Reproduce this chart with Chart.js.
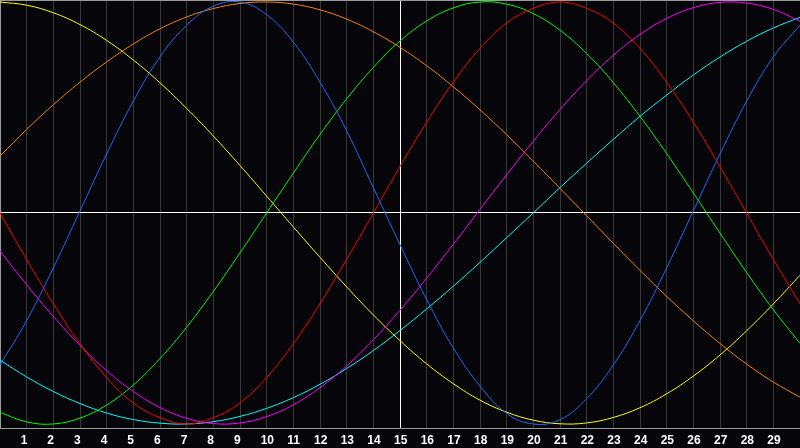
<!DOCTYPE html>
<html>
<head>
<meta charset="utf-8">
<script src="https://cdn.jsdelivr.net/npm/chart.js@4"></script>
<style>
  html, body { margin: 0; padding: 0; background: #05050a; }
  canvas { display: block; }
</style>
</head>
<body>
<canvas id="chart" width="800" height="448"></canvas>
<script>
// days along the bottom (0..30), labels shown for 1..29
const days = [0,1,2,3,4,5,6,7,8,9,10,11,12,13,14,15,16,17,18,19,20,21,22,23,24,25,26,27,28,29,30];

// curve values, -1 .. 1
const blue = [-0.72,-0.51,-0.26,0.01,0.28,0.53,0.74,0.89,0.98,1.00,0.94,0.81,0.62,0.39,0.12,-0.15,-0.41,-0.64,-0.82,-0.95,-1.00,-0.98,-0.88,-0.72,-0.51,-0.26,0.01,0.28,0.53,0.74,0.89];
const red = [0,-0.22,-0.43,-0.62,-0.78,-0.90,-0.97,-1.00,-0.97,-0.90,-0.78,-0.62,-0.43,-0.22,0,0.22,0.43,0.62,0.78,0.90,0.97,1.00,0.97,0.90,0.78,0.62,0.43,0.22,0,-0.22,-0.43];
const green = [-0.945,-0.99,-1.00,-0.972,-0.91,-0.815,-0.69,-0.541,-0.372,-0.189,0,0.189,0.372,0.541,0.69,0.815,0.91,0.972,1.00,0.99,0.945,0.866,0.756,0.618,0.458,0.282,0.095,-0.095,-0.282,-0.458,-0.618];
const magenta = [-0.18,-0.34,-0.49,-0.627,-0.747,-0.846,-0.922,-0.973,-0.998,-0.995,-0.965,-0.909,-0.828,-0.725,-0.601,-0.461,-0.309,-0.148,0.017,0.181,0.34,0.49,0.627,0.747,0.846,0.922,0.973,0.998,0.995,0.965,0.909];
const cyan = [-0.697,-0.777,-0.846,-0.903,-0.948,-0.979,-0.996,-1.00,-0.989,-0.964,-0.926,-0.875,-0.812,-0.737,-0.652,-0.557,-0.455,-0.347,-0.234,-0.117,0.001,0.12,0.236,0.349,0.458,0.559,0.654,0.739,0.814,0.877,0.927];
const orange = [0.27,0.396,0.513,0.62,0.716,0.801,0.873,0.929,0.969,0.993,1.00,0.99,0.963,0.919,0.859,0.785,0.698,0.598,0.489,0.371,0.246,0.117,-0.013,-0.144,-0.272,-0.395,-0.511,-0.618,-0.716,-0.801,-0.873];
const yellow = [1.00,0.985,0.949,0.893,0.818,0.725,0.617,0.496,0.365,0.225,0.08,-0.066,-0.21,-0.35,-0.483,-0.605,-0.715,-0.809,-0.887,-0.944,-0.982,-0.999,-0.995,-0.969,-0.923,-0.857,-0.773,-0.673,-0.558,-0.431,-0.295];

const series = [
  { data: blue, color: "#1a6cff" },
  { data: red, color: "#ff0000" },
  { data: green, color: "#00ff00" },
  { data: magenta, color: "#ff00ff" },
  { data: cyan, color: "#00ffff" },
  { data: orange, color: "#ff8000" },
  { data: yellow, color: "#ffff00" }
];

const frameTop = {
  id: "frameTop",
  afterDraw(chart) {
    const c = chart.ctx, a = chart.chartArea;
    c.save();
    c.strokeStyle = "#9a9a9a";
    c.lineWidth = 1;
    c.beginPath();
    c.moveTo(a.left, a.top + 0.5);
    c.lineTo(a.right, a.top + 0.5);
    c.stroke();
    c.restore();
  }
};

new Chart(document.getElementById("chart"), {
  type: "line",
  data: {
    datasets: series.map(s => ({
      data: s.data.map((v, i) => ({ x: days[i], y: v })),
      borderColor: s.color,
      borderWidth: 1,
      pointRadius: 0,
      tension: 0.4,
      fill: false
    }))
  },
  options: {
    responsive: false,
    animation: false,
    layout: { padding: 0 },
    plugins: { legend: { display: false }, tooltip: { enabled: false } },
    scales: {
      x: {
        type: "linear",
        min: 0,
        max: 30,
        afterFit: s => { s.height = 20; s.paddingLeft = 0; s.paddingRight = 0; },
        border: { display: true, color: "#9a9a9a", width: 1 },
        grid: {
          drawTicks: false,
          color: ctx => {
            const v = ctx.tick && ctx.tick.value;
            if (v === 15) return "#ffffff";
            if (v === 0 || v === 30) return "rgba(0,0,0,0)";
            return "#383838";
          }
        },
        ticks: {
          stepSize: 1,
          autoSkip: false,
          maxRotation: 0,
          align: "start",
          labelOffset: -6,
          padding: 5,
          color: "#ffffff",
          font: { family: "Liberation Sans", size: 12, weight: "bold" },
          callback: v => (v > 0 && v < 30 ? String(v) : "")
        }
      },
      y: {
        min: -1.019,
        max: 1.0095,
        afterFit: s => { s.width = 0; s.paddingTop = 0; s.paddingBottom = 0; },
        afterBuildTicks: s => { s.ticks = [{ value: 0 }]; },
        border: { display: true, color: "#9a9a9a", width: 1 },
        grid: { drawTicks: false, color: "#ffffff" },
        ticks: { display: false }
      }
    }
  },
  plugins: [frameTop]
});
</script>
</body>
</html>
